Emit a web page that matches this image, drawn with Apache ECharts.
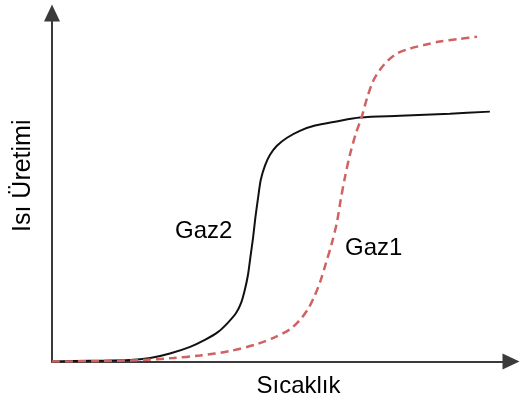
<!DOCTYPE html>
<html>
<head>
<meta charset="utf-8">
<script src="https://cdn.jsdelivr.net/npm/echarts@6/dist/echarts.min.js"></script>
<style>
  html, body { margin: 0; padding: 0; background: #fff; }
  #chart { width: 520px; height: 403px; }
</style>
</head>
<body>
<div id="chart"></div>
<script>
// curves: [temperature, heat output], both on a 0..100 scale
const gaz2 = [
  [0, 0], [8.3, 0.2], [17.0, 0.4], [21.4, 1.0], [25.7, 2.3], [30.1, 4.2],
  [33.3, 6.2], [36.2, 8.5], [38.3, 11.1], [40.1, 13.9], [41.2, 16.8],
  [42.0, 20.5], [42.7, 24.9], [43.2, 29.7], [43.8, 35.5], [44.3, 41.2],
  [44.9, 47.0], [45.5, 52.2], [46.4, 56.2], [47.5, 59.3], [49.0, 61.9],
  [51.2, 64.2], [54.0, 66.2], [57.3, 67.7], [61.7, 68.8], [67.1, 70.0],
  [75.8, 70.5], [86.7, 71.1], [95.4, 71.7]
];
const gaz1 = [
  [0, 0], [10.5, 0.1], [19.2, 0.4], [26.4, 1.0], [32.2, 1.7], [38.8, 3.0],
  [44.7, 5.0], [48.6, 7.0], [51.9, 9.3], [54.0, 11.9], [55.8, 15.1],
  [57.1, 18.5], [58.4, 22.8], [59.7, 28.3], [61.0, 34.1], [62.1, 40.1],
  [62.9, 46.4], [63.8, 52.7], [64.9, 59.3], [66.2, 65.4], [67.5, 70.3],
  [68.6, 75.4], [69.9, 80.3], [71.5, 83.8], [73.2, 86.4], [75.2, 88.4],
  [78.0, 89.8], [81.3, 90.9], [84.5, 91.8], [88.5, 92.5], [92.6, 93.2]
];
const xName = 'Sıcaklık';
const yName = 'Isı Üretimi';

const font = 'Liberation Sans, Arial, sans-serif';
const axisColor = '#3a3a3a';

const chart = echarts.init(document.getElementById('chart'), null, { renderer: 'canvas' });

const axisCommon = {
  type: 'value',
  min: 0,
  max: 100,
  axisLine: {
    show: true,
    symbol: ['none', 'triangle'],
    symbolSize: [16, 17],
    lineStyle: { color: axisColor, width: 2 }
  },
  axisTick: { show: false },
  axisLabel: { show: false },
  splitLine: { show: false },
  nameLocation: 'middle'
};

chart.setOption({
  animation: false,
  grid: { left: 52, right: 9, top: 13, bottom: 41.5, containLabel: false, outerBoundsMode: 'none' },
  xAxis: Object.assign({}, axisCommon, {
    name: xName,
    nameGap: 13,
    nameTextStyle: { color: '#000', fontSize: 24, fontFamily: font, padding: [0, 0, 0, 34] }
  }),
  yAxis: Object.assign({}, axisCommon, {
    name: yName,
    nameGap: 16,
    nameTextStyle: { color: '#000', fontSize: 25, fontFamily: font, padding: [0, 0, 0, 23] }
  }),
  series: [
    {
      name: 'Gaz2',
      type: 'line',
      data: gaz2,
      smooth: 0.3,
      showSymbol: false,
      lineStyle: { color: '#111', width: 2 }
    },
    {
      name: 'Gaz1',
      type: 'line',
      data: gaz1,
      smooth: 0.3,
      showSymbol: false,
      lineStyle: { color: '#d06262', width: 2.5, type: [8, 5] }
    }
  ],
  graphic: [
    { type: 'text', x: 175, y: 231, style: { text: 'Gaz2', fill: '#000', font: '24px ' + font, verticalAlign: 'middle' } },
    { type: 'text', x: 345, y: 248, style: { text: 'Gaz1', fill: '#000', font: '24px ' + font, verticalAlign: 'middle' } }
  ]
});
</script>
</body>
</html>
